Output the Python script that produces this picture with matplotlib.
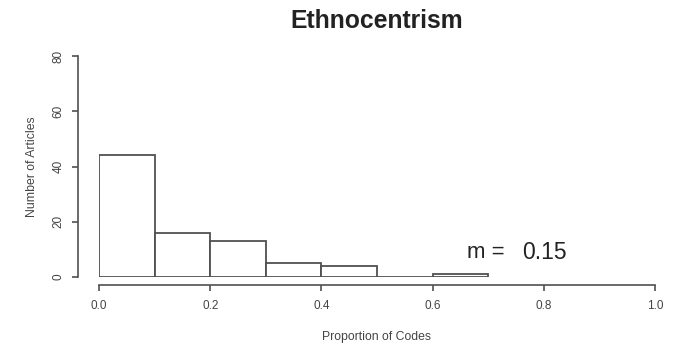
import numpy as np
import matplotlib.pyplot as plt

# histogram of proportion of codes per article
bin_edges = [0.0, 0.1, 0.2, 0.3, 0.4, 0.5, 0.6, 0.7]
counts = [44, 16, 13, 5, 4, 0, 1]
mean_value = 0.15

x_ticks = [0.0, 0.2, 0.4, 0.6, 0.8, 1.0]
y_ticks = [0, 20, 40, 60, 80]

plt.rcParams['font.family'] = ['Liberation Sans', 'DejaVu Sans']
edge = '#505050'

fig = plt.figure(figsize=(6.77, 3.47), dpi=100)
W, H = 677, 347
ax = fig.add_axes([99 / W, 1 - 277 / H, (655 - 99) / W, (277 - 56) / H])

widths = np.diff(bin_edges)
ax.bar(bin_edges[:-1], counts, width=widths, align='edge',
       facecolor='white', edgecolor=edge, linewidth=1.3)

ax.set_xlim(0, 1)
ax.set_ylim(0, 80)

for s in ['top', 'right']:
    ax.spines[s].set_visible(False)
ax.spines['left'].set_position(('outward', 15))
ax.spines['bottom'].set_position(('outward', 6))
ax.spines['left'].set_bounds(0, 80)
ax.spines['bottom'].set_bounds(0, 1)
for s in ['left', 'bottom']:
    ax.spines[s].set_color(edge)
    ax.spines[s].set_linewidth(1.2)

ax.set_xticks(x_ticks)
ax.set_xticklabels([f'{v:.1f}' for v in x_ticks])
ax.set_yticks(y_ticks)
ax.set_yticklabels([str(v) for v in y_ticks], rotation=90, va='center')
ax.tick_params(colors=edge, labelcolor='#444444', labelsize=8.5,
               length=4, width=1.2)
ax.tick_params(axis='x', pad=6.5)
ax.tick_params(axis='y', pad=6)

ax.set_xlabel('Proportion of Codes', fontsize=8.8, color='#444444', labelpad=13.5)
ax.set_ylabel('Number of Articles', fontsize=8.8, color='#444444', labelpad=10.5)
ax.set_title('Ethnocentrism', fontsize=17.8, fontweight='bold', color='#222222', pad=20)

ax.text(0.662, 8.9, 'm =', fontsize=16, color='#222222', va='center')
ax.text(0.761, 8.9, f'{mean_value:.2f}', fontsize=16.5, color='#222222', va='center')

fig.savefig('out.png', dpi=100)
